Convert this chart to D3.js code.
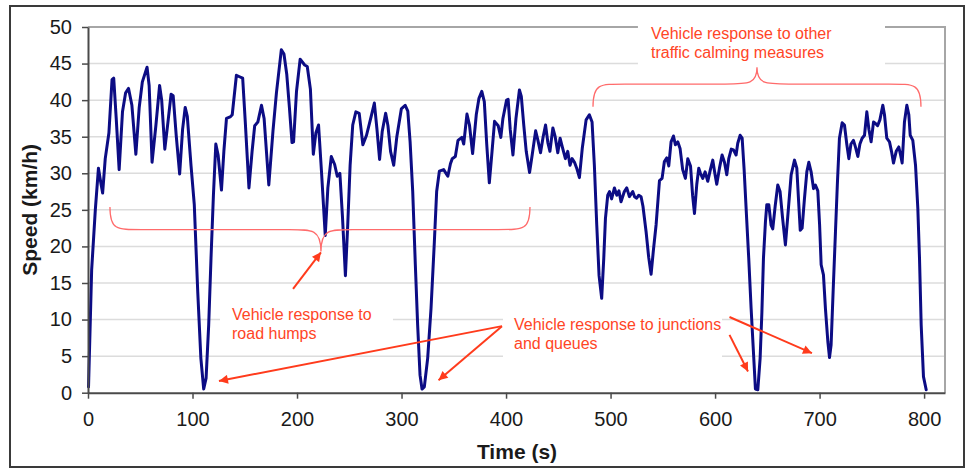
<!DOCTYPE html>
<html>
<head>
<meta charset="utf-8">
<script src="https://cdn.jsdelivr.net/npm/d3@7"></script>
<style>
  html, body { margin: 0; padding: 0; background: #fff; }
  svg { display: block; font-family: "Liberation Sans", Arial, sans-serif; }
</style>
</head>
<body>
<svg id="chart" width="968" height="471"></svg>
<script>
// time (s) of each sample
var timeSec = [
  0.5, 3.5, 7, 10, 12.5, 14, 16.5, 20, 23, 24.6, 27, 29.8, 33, 36, 38.8, 42, 45.8, 49, 52, 56.5,
  58.5, 61.3, 65, 68.5, 70.5, 73.5, 76.5, 79.5, 81.5, 84.5, 87.7, 90.5, 93, 95, 98.6, 101.7, 105, 108, 110.7, 113,
  115.5, 117.7, 120, 122.3, 124.5, 127.7, 130, 132.5, 136, 138, 142, 145, 148, 150.5, 154, 157, 159.5, 162.5, 166, 168.5,
  173, 177, 180.3, 185, 187.5, 190.2, 192.7, 195.2, 196.7, 199.5, 203, 207.3, 209.8, 212.8, 215.6, 218, 220.6, 223.5, 227, 229.5,
  232.8, 236, 238.5, 241, 243.5, 246.3, 248.5, 250.8, 253.3, 256.3, 259.5, 263, 266.5, 270.5, 274, 276.5, 279, 281.5, 284.8, 287,
  289.5, 292.5, 295.5, 299.8, 303.5, 306, 308.2, 310.7, 313.2, 315.4, 317.7, 319.6, 321.8, 325, 328.2, 331.4, 333.6, 336.2, 340.3, 344.3,
  346.8, 348.5, 351.5, 354, 357.7, 359.5, 362.6, 365, 368, 371.5, 374, 376.8, 379.2, 381.5, 384, 386.6, 389, 392.5, 395, 397,
  400.5, 402, 404, 406.6, 409.5, 412.8, 414.6, 417, 419.3, 422.5, 425, 428.3, 430.5, 433, 435.5, 437.8, 440, 442, 444.8, 447,
  449.5, 451.7, 454, 456.8, 459, 461.2, 463.2, 465.5, 467.6, 470.2, 473, 476.6, 479.7, 482.3, 484.5, 486.8, 489, 491.5, 493.5, 495.1,
  497.3, 499, 501, 503.7, 506, 508, 510, 513.2, 515.5, 518, 521.2, 523, 525, 527, 529.2, 531, 534, 536.5, 538.8, 541,
  543.6, 546.8, 549.3, 551.5, 553.8, 555.7, 557.9, 560.2, 562, 564.3, 566.5, 569, 571.6, 573.9, 576.5, 578.5, 580.3, 582.5, 584.4, 586,
  588.2, 590.5, 593, 595.5, 597.8, 600, 601.6, 604.2, 606.7, 609, 611.2, 613.1, 615.5, 617.6, 620.1, 621.7, 624, 625.9, 627.8, 629.7,
  632.2, 634.5, 636.7, 638.6, 640.9, 643.1, 644.8, 646.3, 648.2, 649.5, 651.4, 653.6, 655.2, 657.5, 660, 662.2, 664.5, 667.3, 669.5, 672.8,
  676, 678.2, 680, 681.5, 683.3, 685.5, 687.8, 689.7, 691.9, 694.2, 696, 698.3, 700, 701.5, 703.7, 705.6, 707.9, 709.5, 711, 713,
  715.2, 717, 719, 721.6, 723.8, 726, 728, 730, 732.4, 734.5, 736.6, 738.6, 740.7, 743, 745.2, 747.2, 749.3, 751.6, 753.5, 755.5,
  757.7, 760.5, 762.1, 764.3, 766.9, 768.8, 770.7, 773.3, 775.8, 777.5, 779, 781.2, 783.5, 785.4, 786.7, 789.2, 791.8, 794, 795.6, 797.2,
  799.4, 802
];

// speed (km/h) for each of those samples
var speedKmh = [
  0.8, 16.8, 25, 30.7, 28.5, 27.3, 32, 35.5, 42.8, 43, 37.5, 30.5, 38.4, 41, 41.6, 39.3, 32.6, 39, 42.5, 44.5,
  42, 31.5, 36.6, 42, 40, 33.3, 37, 40.8, 40.6, 35, 29.9, 36, 39, 37.8, 31, 25.7, 13.8, 4.7, 0.5, 2,
  9.3, 18.4, 27, 34, 32.5, 27.7, 33, 37.5, 37.7, 38, 43.4, 43.2, 43, 37, 28, 33, 36.5, 37, 39.3, 37.5,
  28.4, 35.8, 41, 46.9, 46.3, 43.5, 39, 34.2, 34.3, 41.2, 45.6, 44.8, 44.6, 41.5, 32.6, 35.5, 36.6, 30, 21.5, 28,
  32.3, 31.2, 29.6, 30, 24, 16, 22.9, 31.1, 36.6, 38.4, 38.2, 33.9, 35.2, 37.5, 39.6, 36, 31.9, 35.7, 38.2, 36.5,
  33, 31.1, 35, 38.8, 39.3, 38.5, 34.3, 27.5, 17.5, 9.3, 2.4, 0.5, 0.8, 4.7, 11.5, 20.6, 27.5, 30.3, 30.5, 29.6,
  31.3, 32, 32.3, 34.5, 34.9, 34, 38.1, 36.6, 32.7, 38, 40.2, 41.2, 39.8, 34, 28.7, 33, 37.1, 36.5, 34.9, 37.5,
  40, 40.1, 36, 32.5, 37.5, 41.4, 40.5, 36.5, 33, 30.1, 32.5, 35.8, 34.5, 32.8, 35, 36.6, 34.2, 33, 36.2, 35,
  32.8, 34.8, 33.5, 32, 33, 31.1, 32, 31.5, 30.7, 29.4, 33.5, 37.3, 38, 37, 31.1, 22.9, 16, 12.9, 18.4, 23.8,
  27, 27.5, 26.5, 28, 27, 27.6, 26.1, 27.5, 28, 26.8, 27.5, 26.8, 26.6, 27, 26.8, 25.5, 22, 18.5, 16.2, 19.5,
  23, 29, 29.3, 31.6, 32.1, 31, 34.3, 35.1, 33.9, 34.3, 33.4, 30.5, 29.3, 32, 31, 27, 24.5, 28.5, 30.7, 30,
  29.3, 30.2, 28.9, 30.5, 31.8, 29.8, 28.5, 30.7, 32.5, 31.5, 29.8, 32, 33.3, 33.2, 32.5, 34.1, 35.2, 34.8, 30.5, 25.2,
  18.4, 11.5, 5.6, 0.5, 0.4, 4.7, 11, 18.4, 23.4, 25.7, 25.7, 22.9, 22.4, 25.5, 28.4, 27.5, 24, 20.2, 24, 29.8,
  31.8, 30.7, 26, 22.2, 22.5, 26.5, 30.2, 31.5, 30.2, 27.9, 28.4, 27.6, 23, 17.5, 16.1, 11.5, 7, 4.8, 6.5, 14,
  22, 28.5, 34.8, 36.9, 36.6, 34, 32, 34, 34.5, 33.5, 32.3, 34, 34.8, 35.2, 38.4, 36, 34.3, 37, 36.8, 36.5,
  37.3, 39.3, 38, 34.8, 34.3, 33, 31.4, 33, 33.6, 32.5, 31.4, 37, 39.3, 38, 35.2, 34.5, 31.1, 25.2, 18.4, 9.3,
  2.2, 0.4
];

var xTicks = [0, 100, 200, 300, 400, 500, 600, 700, 800];
var yTicks = [0, 5, 10, 15, 20, 25, 30, 35, 40, 45, 50];

var xTitle = "Time (s)";
var yTitle = "Speed (km/h)";

// annotation notes, anchored in data units (t, km/h)
var noteLines = [
  ["Vehicle response to other", "traffic calming measures"],
  ["Vehicle response to", "road humps"],
  ["Vehicle response to junctions", "and queues"]
];
var noteAnchor = [[538.7, 48.35], [137.8, 9.95], [407.6, 8.6]];
// white boxes behind the notes: [t0, t1, vTop, vBottom]
var noteBox = [[526.2, 762.6, 51.6, 44.4], [126.3, 291.8, 12.7, 5.85], [397.1, 606.6, 12.0, 4.5]];

// braces: [tLeft, tMid, tRight, vBar, vTip, vEnd]
var braces = [
  [21.0, 222.9, 422.9, 22.3, 19.3, 25.4],
  [483.2, 640.1, 797.0, 42.2, 44.5, 39.1]
];

// arrows: [tFrom, vFrom, tTo, vTo]
var arrows = [
  [196.2, 14.2, 222.9, 19.2],
  [396.1, 9.1, 125.3, 1.6],
  [396.1, 9.1, 335.4, 1.7],
  [613.8, 10.35, 692.7, 5.4],
  [613.8, 7.9, 631.5, 2.9]
];

var svg = d3.select("#chart");

var x = d3.scaleLinear().domain([0, 820]).range([88, 945]);
var y = d3.scaleLinear().domain([0, 50]).range([392.7, 27]);

// outer frame
svg.append("rect")
  .attr("x", 10).attr("y", 6)
  .attr("width", 954).attr("height", 461)
  .attr("fill", "#fff")
  .attr("stroke", "#3a3a3a")
  .attr("stroke-width", 2);

// horizontal grid lines
svg.append("g")
  .selectAll("line")
  .data(yTicks.filter(d => d > 0 && d < 50))
  .join("line")
  .attr("x1", x(0)).attr("x2", x.range()[1])
  .attr("y1", d => y(d)).attr("y2", d => y(d))
  .attr("stroke", "#dcdcdc")
  .attr("stroke-width", 1.5);

// plot-area border (top + right), Excel style
svg.append("path")
  .attr("d", `M${x(0)},${y(50)}H${x.range()[1]}V${y(0)}`)
  .attr("fill", "none")
  .attr("stroke", "#a6a6a6")
  .attr("stroke-width", 2);

// the speed trace
var pts = timeSec.map((t, i) => [t, speedKmh[i]]);
var line = d3.line().x(d => x(d[0])).y(d => y(d[1]));

svg.append("path")
  .datum(pts)
  .attr("d", line)
  .attr("fill", "none")
  .attr("stroke", "#0c0c84")
  .attr("stroke-width", 3)
  .attr("stroke-linejoin", "round")
  .attr("stroke-linecap", "round");

// white note boxes
svg.append("g")
  .selectAll("rect")
  .data(noteBox)
  .join("rect")
  .attr("x", d => x(d[0]))
  .attr("y", d => y(d[2]))
  .attr("width", d => x(d[1]) - x(d[0]))
  .attr("height", d => y(d[3]) - y(d[2]))
  .attr("fill", "#fff");

// note texts
noteLines.forEach(function (lines, i) {
  var t = svg.append("text")
    .attr("x", x(noteAnchor[i][0]))
    .attr("y", y(noteAnchor[i][1]))
    .attr("font-size", 16)
    .attr("fill", "#ff4526");
  lines.forEach(function (s, j) {
    t.append("tspan")
      .attr("x", x(noteAnchor[i][0]))
      .attr("dy", j == 0 ? 0 : 19)
      .text(s);
  });
});

// curly braces
function bracePath(b) {
  var xl = x(b[0]), xm = x(b[1]), xr = x(b[2]);
  var yb = y(b[3]), yt = y(b[4]), ye = y(b[5]);
  var r = 32; // curl length in px
  var dir = ye < yb ? -1 : 1;
  return `M${xl},${ye}` +
    `C${xl},${yb} ${xl + 6},${yb} ${xl + r},${yb}` +
    `H${xm - r}` +
    `C${xm - 8},${yb} ${xm},${yb} ${xm},${yt}` +
    `C${xm},${yb} ${xm + 8},${yb} ${xm + r},${yb}` +
    `H${xr - r}` +
    `C${xr - 6},${yb} ${xr},${yb} ${xr},${ye}`;
}

svg.append("g")
  .selectAll("path")
  .data(braces)
  .join("path")
  .attr("d", bracePath)
  .attr("fill", "none")
  .attr("stroke", "#ff6b6b")
  .attr("stroke-width", 1.3);

// arrows with filled heads
svg.append("defs").append("marker")
  .attr("id", "head")
  .attr("viewBox", "0 0 10 10")
  .attr("refX", 10).attr("refY", 5)
  .attr("markerWidth", 5).attr("markerHeight", 4.5)
  .attr("markerUnits", "strokeWidth")
  .attr("orient", "auto")
  .append("path")
  .attr("d", "M0,0L10,5L0,10Z")
  .attr("fill", "#ff3b1c");

svg.append("g")
  .selectAll("line")
  .data(arrows)
  .join("line")
  .attr("x1", d => x(d[0])).attr("y1", d => y(d[1]))
  .attr("x2", d => x(d[2])).attr("y2", d => y(d[3]))
  .attr("stroke", "#ff3b1c")
  .attr("stroke-width", 2)
  .attr("marker-end", "url(#head)");

// axes
var xAxis = svg.append("g")
  .attr("transform", `translate(0,${y(0)})`)
  .call(d3.axisBottom(x).tickValues(xTicks).tickSize(6).tickSizeOuter(0).tickPadding(13));

var yAxis = svg.append("g")
  .attr("transform", `translate(${x(0)},0)`)
  .call(d3.axisLeft(y).tickValues(yTicks).tickSize(6).tickSizeOuter(0).tickPadding(10));

[xAxis, yAxis].forEach(function (g) {
  g.select(".domain").attr("stroke", "#4a4a4a").attr("stroke-width", 2);
  g.selectAll(".tick line").attr("stroke", "#4a4a4a").attr("stroke-width", 1.5);
  g.selectAll(".tick text")
    .attr("font-family", "'Liberation Sans', Arial, sans-serif")
    .attr("font-size", 20)
    .attr("fill", "#1a1a1a");
});

// axis titles
svg.append("text")
  .attr("x", 517).attr("y", 459)
  .attr("text-anchor", "middle")
  .attr("font-size", 21)
  .attr("font-weight", "bold")
  .attr("fill", "#1a1a1a")
  .text(xTitle);

svg.append("text")
  .attr("transform", `translate(37,${(y(0) + y(50)) / 2}) rotate(-90)`)
  .attr("text-anchor", "middle")
  .attr("font-size", 21)
  .attr("font-weight", "bold")
  .attr("fill", "#1a1a1a")
  .text(yTitle);
</script>
</body>
</html>
